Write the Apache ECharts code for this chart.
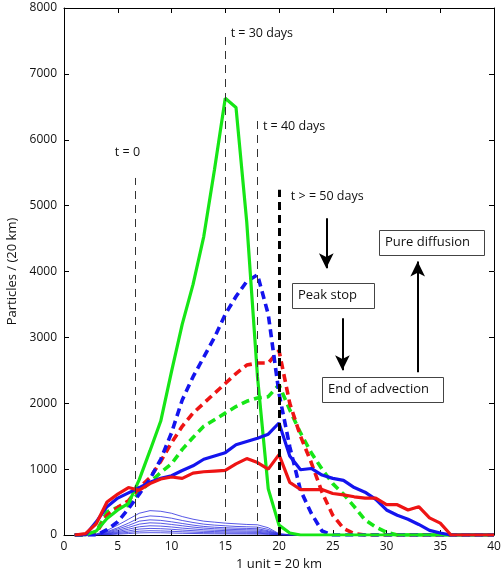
<!DOCTYPE html>
<html>
<head>
<meta charset="utf-8">
<script src="https://cdn.jsdelivr.net/npm/echarts@6/dist/echarts.min.js"></script>
<style>
  html, body { margin: 0; padding: 0; background: #fff; }
  #chart { width: 502px; height: 576px; }
</style>
</head>
<body>
<div id="chart"></div>
<script>
// Distance along the channel (1 unit = 20 km)
const units = [1,2,3,4,5,6,7,8,9,10,11,12,13,14,15,16,17,18,19,20,
               21,22,23,24,25,26,27,28,29,30,31,32,33,34,35,36,37,38,39,40];

// Particle counts per 20 km bin
const green30 = [0,0,60,250,380,480,840,1280,1730,2480,3200,3800,4530,5550,6630,6490,4750,2400,700,150,
                 30,0,0,0,0,0,0,0,0,0,0,0,0,0,0,0,0,0,0,0];
const blueDash = [0,0,0,80,200,400,620,850,1150,1550,2050,2400,2700,3000,3350,3620,3850,3950,3350,2150,
                  1340,680,330,60,0,0,0,0,0,0,0,0,0,0,0,0,0,0,0,0];
const redDash = [0,0,30,300,420,520,720,870,1120,1400,1650,1850,2000,2150,2300,2450,2580,2610,2610,2800,
                 2000,1500,1100,650,300,100,20,0,0,0,0,0,0,0,0,0,0,0,0,0];
const greenDash = [0,0,50,350,420,450,650,800,950,1080,1300,1480,1650,1750,1850,1950,2030,2080,2100,2280,
                   1900,1550,1250,1000,780,620,430,230,120,40,0,0,0,0,0,0,0,0,0,0];
const blueSolid = [0,0,200,430,560,640,720,800,860,900,980,1050,1150,1200,1250,1370,1420,1470,1530,1700,
                   1200,990,1010,910,860,830,720,650,540,380,300,240,160,70,30,0,0,0,0,0];
const redSolid = [0,20,170,500,620,720,680,780,850,880,860,940,960,970,980,1080,1160,1100,1000,1220,
                  800,690,690,690,630,610,580,560,560,460,460,380,430,260,180,0,0,0,0,0];

// Early-time profiles (thin lines)
const thin1 = [0,0,15,70,150,240,330,370,360,330,280,240,210,195,180,170,160,155,110,20,5,0,0,0,0,0,0,0,0,0,0,0,0,0,0,0,0,0,0,0];
const thin2 = [0,0,10,50,110,180,260,290,280,255,220,190,165,150,140,130,125,120,85,15,3,0,0,0,0,0,0,0,0,0,0,0,0,0,0,0,0,0,0,0];
const thin3 = [0,0,8,40,90,145,210,230,222,200,175,150,130,118,110,104,100,95,65,12,2,0,0,0,0,0,0,0,0,0,0,0,0,0,0,0,0,0,0,0];
const thin4 = [0,0,6,30,70,115,165,185,178,160,140,120,105,95,88,83,80,76,52,10,2,0,0,0,0,0,0,0,0,0,0,0,0,0,0,0,0,0,0,0];
const thin5 = [0,0,4,22,52,88,125,140,135,122,105,92,80,72,67,63,60,57,40,8,1,0,0,0,0,0,0,0,0,0,0,0,0,0,0,0,0,0,0,0];
const thin6 = [0,0,3,16,38,62,90,100,96,87,75,66,57,52,48,45,43,41,28,6,1,0,0,0,0,0,0,0,0,0,0,0,0,0,0,0,0,0,0,0];
const thin7 = [0,0,2,10,25,40,58,65,62,56,49,43,37,34,31,29,28,27,18,4,0,0,0,0,0,0,0,0,0,0,0,0,0,0,0,0,0,0,0,0];
const thin8 = [0,0,1,5,13,22,32,35,34,30,26,23,20,18,17,16,15,14,10,2,0,0,0,0,0,0,0,0,0,0,0,0,0,0,0,0,0,0,0,0];

// Time markers: line position, top of line, label and its anchor
const markers = [
  { x: 6.6, top: 5420, label: 't = 0', lx: 5.9, ly: 5810, align: 'center' },
  { x: 15.0, top: 7600, label: 't = 30 days', lx: 15.5, ly: 7610, align: 'left' },
  { x: 18.0, top: 6330, label: 't = 40 days', lx: 18.5, ly: 6200, align: 'left' },
  { x: 20.0, top: 5240, label: 't > = 50 days', lx: 21.1, ly: 5140, align: 'left' }
];

// Boxed annotations: extent in axis units
const boxes = [
  { text: 'Peak stop', x0: 21.2, x1: 28.85, y0: 3445, y1: 3825 },
  { text: 'End of advection', x0: 24.0, x1: 35.25, y0: 2018, y1: 2398 },
  { text: 'Pure diffusion', x0: 29.3, x1: 39.05, y0: 4250, y1: 4630 }
];

// Arrows: [x, from y, to y]
const arrows = [
  [24.4, 4810, 4050],
  [25.9, 3290, 2500],
  [32.9, 2470, 4150]
];

const FONT = '"Open Sans", "Noto Sans", sans-serif';
const pair = arr => units.map((u, i) => [u, arr[i]]);

const chart = echarts.init(document.getElementById('chart'), null, { renderer: 'canvas' });

function thinSeries(arr) {
  return {
    type: 'line', data: pair(arr), symbol: 'none', silent: true,
    lineStyle: { color: '#2f2fe0', width: 0.9, opacity: 0.9 }, z: 2
  };
}

function mainSeries(arr, color, dashed, z) {
  return {
    type: 'line', data: pair(arr), symbol: 'none', silent: true,
    lineStyle: { color: color, width: dashed ? 3.6 : 3.2, type: dashed ? [8, 5] : 'solid', cap: 'butt' },
    z: z
  };
}

const thinMarkers = markers.slice(0, 3).map(m => [
  { coord: [m.x, 0] }, { coord: [m.x, m.top] }
]);
const m50 = markers[3];

const frameAxis = {
  axisLine: { show: true, onZero: false, lineStyle: { color: '#000', width: 1 } },
  axisTick: { show: true, inside: true, length: 5, lineStyle: { color: '#000' } },
  splitLine: { show: false }
};

const option = {
  animation: false,
  backgroundColor: '#fff',
  grid: { left: 64, right: 8, top: 8, bottom: 41, outerBoundsMode: 'none', containLabel: false },
  xAxis: [Object.assign({
    type: 'value', min: 0, max: 40, interval: 5, position: 'bottom',
    name: '1 unit = 20 km', nameLocation: 'middle', nameGap: 22,
    nameTextStyle: { fontFamily: FONT, fontSize: 13, color: '#111' },
    axisLabel: { fontFamily: FONT, fontSize: 12, color: '#111', margin: 6 }
  }, frameAxis), Object.assign({
    type: 'value', min: 0, max: 40, interval: 5, position: 'top',
    axisLabel: { show: false }
  }, frameAxis)],
  yAxis: [Object.assign({
    type: 'value', min: 0, max: 8000, interval: 1000, position: 'left',
    name: 'Particles / (20 km)', nameLocation: 'middle', nameGap: 40, nameRotate: 90,
    nameTextStyle: { fontFamily: FONT, fontSize: 13, color: '#111' },
    axisLabel: { fontFamily: FONT, fontSize: 12, color: '#111', margin: 7, formatter: v => String(v) }
  }, frameAxis), Object.assign({
    type: 'value', min: 0, max: 8000, interval: 1000, position: 'right',
    axisLabel: { show: false }
  }, frameAxis)],
  series: [
    // thin time-marker lines
    {
      type: 'line', data: [], silent: true, z: 1,
      markLine: {
        silent: true, symbol: ['none', 'none'], animation: false,
        label: { show: false },
        lineStyle: { color: '#333', width: 1, type: [8, 6] },
        data: thinMarkers
      }
    },
    thinSeries(thin8), thinSeries(thin7), thinSeries(thin6), thinSeries(thin5),
    thinSeries(thin4), thinSeries(thin3), thinSeries(thin2), thinSeries(thin1),
    mainSeries(greenDash, '#16e616', true, 3),
    mainSeries(redDash, '#ee1414', true, 3),
    mainSeries(blueDash, '#1414ee', true, 3),
    mainSeries(green30, '#16e616', false, 4),
    mainSeries(blueSolid, '#1414ee', false, 4),
    mainSeries(redSolid, '#ee1414', false, 4),
    // heavy t >= 50 days marker and arrows
    {
      type: 'line', data: [], silent: true, z: 6,
      markLine: {
        silent: true, animation: false,
        label: { show: false },
        data: [
          [{ coord: [m50.x, 0], symbol: 'none', lineStyle: { color: '#000', width: 3, type: [8, 5] } },
           { coord: [m50.x, m50.top], symbol: 'none' }]
        ].concat(arrows.map(a => [
          { coord: [a[0], a[1]], symbol: 'none', lineStyle: { color: '#000', width: 2, type: 'solid' } },
          { coord: [a[0], a[2]], symbol: 'arrow', symbolSize: [11, 15] }
        ]))
      }
    }
  ]
};

chart.setOption(option);

// Text annotations placed at data coordinates
const toPx = (x, y) => chart.convertToPixel({ gridIndex: 0 }, [x, y]);
const graphics = [];
markers.forEach(m => {
  const p = toPx(m.lx, m.ly);
  graphics.push({
    type: 'text', x: p[0], y: p[1], z: 10,
    style: { text: m.label, fill: '#111', font: '12.5px ' + FONT, align: m.align, verticalAlign: 'middle' }
  });
});
boxes.forEach(b => {
  const tl = toPx(b.x0, b.y1);
  const br = toPx(b.x1, b.y0);
  graphics.push({
    type: 'rect', z: 10,
    shape: { x: Math.round(tl[0]) + 0.5, y: Math.round(tl[1]) + 0.5,
             width: Math.round(br[0] - tl[0]), height: Math.round(br[1] - tl[1]) },
    style: { fill: '#fff', stroke: '#444', lineWidth: 1 }
  });
  graphics.push({
    type: 'text', z: 11, x: tl[0] + 6, y: (tl[1] + br[1]) / 2,
    style: { text: b.text, fill: '#111', font: '13px ' + FONT, align: 'left', verticalAlign: 'middle' }
  });
});
chart.setOption({ graphic: graphics });
</script>
</body>
</html>
